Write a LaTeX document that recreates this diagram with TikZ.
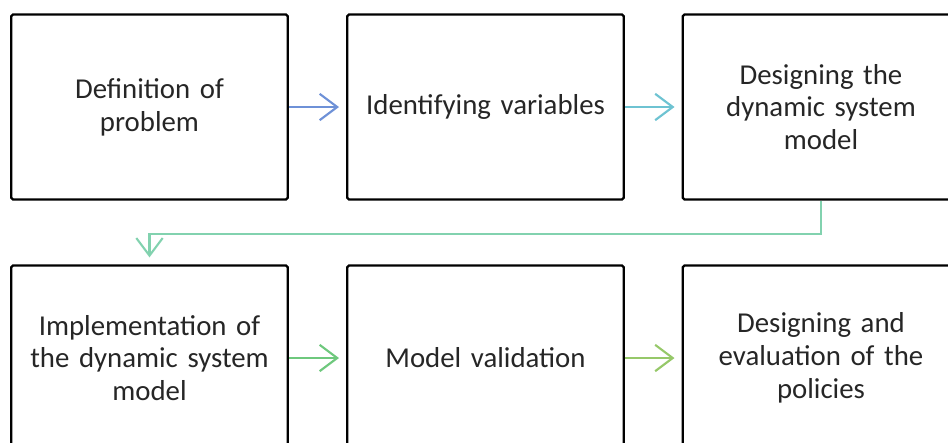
\documentclass[tikz,border=0pt]{standalone}
\usepackage{fontspec}
\setmainfont{Carlito}
\usetikzlibrary{arrows.meta}
\definecolor{flecheA}{RGB}{110,145,215}
\definecolor{flecheB}{RGB}{110,195,210}
\definecolor{flecheC}{RGB}{130,210,175}
\definecolor{flecheD}{RGB}{110,200,125}
\definecolor{flecheE}{RGB}{150,200,105}

\begin{document}
\begin{tikzpicture}[x=0.02cm,y=-0.02cm,
  etape/.style={draw=black,line width=1.3pt,rounded corners=1pt,minimum width=5.5cm,minimum height=3.7cm,
    text width=5.3cm,align=center,text=black!85,font=\fontsize{16.4}{18.7}\selectfont},
  fleche/.style={line width=1.2pt,-{Straight Barb[length=10pt,width=15pt,line width=1.2pt]},shorten >=4pt}]
\useasboundingbox (0,0) rectangle (948,443);
\clip (0,0) rectangle (948,443);

\node[etape] (def) at (149.5,107) {Definition of\\problem};
\node[etape] (var) at (485.5,107) {Identifying variables};
\node[etape] (des) at (821,107) {Designing the\\dynamic system\\model};
\node[etape] (imp) at (149.5,358) {Implementation of\\the dynamic system\\model};
\node[etape] (val) at (485.5,358) {Model validation};
\node[etape] (pol) at (821,358) {Designing and\\evaluation of the\\policies};

\draw[fleche,flecheA] (def) -- (var);
\draw[fleche,flecheB] (var) -- (des);
\draw[fleche,flecheC] (des.south) -- ++(0,33) -| (imp.north);
\draw[fleche,flecheD] (imp) -- (val);
\draw[fleche,flecheE] (val) -- (pol);
\end{tikzpicture}
\end{document}
